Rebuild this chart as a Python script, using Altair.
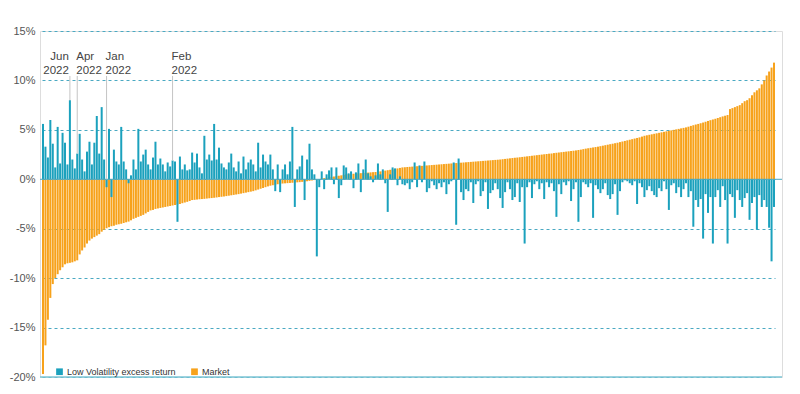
import altair as alt
import pandas as pd

# Market monthly return (%), sorted ascending
market = [
    -19.7, -16.8, -14.2, -12.0, -10.6, -10.0, -9.6, -9.2, -8.9, -8.6,
    -8.5, -8.45, -8.4, -8.3, -8.2, -7.6, -7.2, -6.9, -6.5, -6.2,
    -6.0, -5.85, -5.7, -5.55, -5.3, -5.1, -4.95, -4.85, -4.75, -4.7,
    -4.6, -4.55, -4.5, -4.42, -4.35, -4.28, -4.15, -4.0, -3.9, -3.8,
    -3.7, -3.6, -3.45, -3.3, -3.15, -3.1, -3.0, -2.95, -2.9, -2.85,
    -2.8, -2.75, -2.7, -2.65, -2.6, -2.55, -2.5, -2.42, -2.35, -2.28,
    -2.2, -2.1, -2.08, -2.05, -2.02, -2.0, -1.98, -1.95, -1.92, -1.9,
    -1.87, -1.84, -1.8, -1.77, -1.74, -1.7, -1.66, -1.62, -1.58, -1.54,
    -1.5, -1.45, -1.4, -1.35, -1.3, -1.25, -1.2, -1.12, -1.04, -0.96,
    -0.88, -0.8, -0.72, -0.65, -0.6, -0.55, -0.5, -0.45, -0.43, -0.41,
    -0.39, -0.37, -0.35, -0.33, -0.31, -0.29, -0.26, -0.23, -0.2, -0.16,
    -0.12, -0.08, -0.04, 0.03, 0.08, 0.12, 0.16, 0.2, 0.24, 0.28,
    0.32, 0.36, 0.4, 0.45, 0.5, 0.52, 0.54, 0.56, 0.58, 0.6,
    0.62, 0.64, 0.66, 0.68, 0.7, 0.72, 0.74, 0.77, 0.8, 0.84,
    0.88, 0.92, 0.96, 1.0, 1.05, 1.1, 1.15, 1.2, 1.22, 1.24,
    1.26, 1.28, 1.3, 1.32, 1.34, 1.36, 1.38, 1.4, 1.42, 1.44,
    1.46, 1.48, 1.5, 1.52, 1.54, 1.56, 1.58, 1.6, 1.62, 1.64,
    1.66, 1.68, 1.7, 1.72, 1.74, 1.76, 1.78, 1.8, 1.82, 1.84,
    1.86, 1.88, 1.9, 1.92, 1.94, 1.96, 1.98, 2.0, 2.03, 2.06,
    2.09, 2.12, 2.15, 2.18, 2.2, 2.23, 2.26, 2.29, 2.32, 2.35,
    2.38, 2.41, 2.44, 2.47, 2.5, 2.53, 2.56, 2.59, 2.62, 2.65,
    2.68, 2.71, 2.74, 2.77, 2.8, 2.83, 2.86, 2.89, 2.92, 2.96,
    3.0, 3.05, 3.1, 3.14, 3.18, 3.22, 3.26, 3.3, 3.35, 3.4,
    3.45, 3.5, 3.55, 3.6, 3.65, 3.7, 3.76, 3.82, 3.88, 3.94,
    4.0, 4.06, 4.12, 4.18, 4.24, 4.32, 4.4, 4.45, 4.5, 4.55,
    4.6, 4.65, 4.7, 4.75, 4.8, 4.85, 4.9, 4.95, 5.0, 5.05,
    5.1, 5.15, 5.2, 5.25, 5.32, 5.4, 5.47, 5.54, 5.6, 5.67,
    5.74, 5.82, 5.9, 5.98, 6.05, 6.12, 6.2, 6.28, 6.36, 6.43,
    6.5, 7.1, 7.2, 7.3, 7.4, 7.5, 7.7, 7.9, 8.0, 8.2,
    8.5, 8.8, 9.0, 9.2, 9.6, 10.0, 10.5, 10.9, 11.3, 11.8,
]

# Low Volatility excess return (%) for the same months
lowvol = [
    5.6, 3.3, 2.2, 6.0, 3.6, 1.2, 5.3, 1.6, 4.7, 3.7,
    1.5, 8.0, 2.0, 1.1, 2.6, 4.6, 2.0, 0.8, 2.8, 3.8,
    1.5, 3.7, 6.4, 2.6, 7.3, 2.0, -0.8, 5.1, -1.8, 3.0,
    1.8, 1.5, 5.3, 1.8, 1.0, -0.4, 0.4, 2.0, 1.0, 5.1,
    1.8, 2.5, 3.0, 1.5, 1.0, 2.2, 3.8, 1.5, 2.1, 1.5,
    0.8, 1.7, 1.3, 1.9, 1.8, -4.3, 2.3, 1.0, 1.5, 0.9,
    1.0, 2.7, 1.7, 2.6, 1.2, 0.6, 4.4, 2.0, 2.5, 1.9,
    5.6, 2.0, 3.2, 1.6, 1.2, 1.0, 1.7, 2.6, 1.2, 0.8,
    1.8, 0.6, 2.3, 1.0, 1.7, 2.0, 1.5, 0.8, 3.7, 1.2,
    2.5, 1.8, 1.5, 2.5, 1.0, -1.2, 1.5, -1.3, 1.0, 1.5,
    0.5, 1.8, 5.3, -2.8, 1.0, 1.3, 2.4, -2.1, 2.0, 3.6,
    1.0, 0.5, -7.8, -0.8, 0.8, -1.0, 0.5, 0.9, 1.2, -0.5,
    1.2, -1.9, -0.6, 1.4, 1.2, 0.6, 0.8, -0.9, 0.7, 1.6,
    -1.3, 1.0, 2.0, 0.6, 0.3, -0.3, 0.4, 1.6, 0.5, 1.0,
    -0.4, -3.3, 0.5, 1.2, 1.1, -0.6, 0.3, -0.5, -0.6, -0.4,
    -1.0, -0.3, 1.7, -0.8, 1.4, -0.3, 1.8, -1.3, -0.9, -0.2,
    -0.6, -1.0, -0.4, -0.8, -0.3, -1.5, -0.5, -0.2, 1.7, -4.6,
    2.1, -1.3, -2.1, -1.0, -1.2, -0.3, -2.4, -0.5, -0.2, -1.7,
    -1.2, -0.3, -3.0, -1.4, -1.1, -0.4, -1.0, -1.9, -2.9, -1.3,
    -0.3, -1.0, -2.1, -1.8, -0.4, -2.3, -0.8, -6.5, -0.8, -0.3,
    -1.9, -0.5, -0.2, -1.0, -0.4, -2.0, -0.3, -0.8, -0.4, -1.2,
    -3.8, -0.5, -1.5, -0.3, -0.6, -0.2, -2.2, -1.0, -0.3, -4.3,
    -1.8, -0.3, -0.5, -0.8, -0.4, -3.9, -0.6, -1.0, -1.4, -1.0,
    -0.4, -1.6, -2.0, -1.5, -0.5, -3.6, -1.2, -0.3, -0.1, -0.2,
    -0.4, -0.6, -0.2, -2.5, -0.4, -0.8, -1.8, -1.1, -0.7, -1.2,
    -1.6, -1.8, -0.9, -1.2, -0.2, -1.0, -3.1, -0.6, -0.4, -1.4,
    -0.8, -1.8, -1.0, -0.4, -1.8, -1.2, -4.8, -2.1, -2.8, -2.0,
    -6.0, -1.5, -3.4, -1.8, -6.5, -1.8, -1.1, -2.8, -0.7, -2.1,
    -6.5, -1.5, -1.8, -3.9, -1.1, -2.1, -2.8, -1.9, -1.4, -4.1,
    -2.4, -1.8, -5.1, -1.6, -2.8, -2.1, -2.8, -4.9, -8.3, -2.8,
]

assert len(market) == len(lowvol), (len(market), len(lowvol))

series_names = ["Low Volatility excess return", "Market"]
series_colors = ["#1ba1bd", "#f7a21b"]

# Annotated months: bar index, label
ann_index = [11, 14, 26, 53]
ann_labels = ["Jun\n2022", "Apr\n2022", "Jan\n2022", "Feb\n2022"]
ann_align = ["right", "left", "left", "left"]

y_ticks = [15, 10, 5, 0, -5, -10, -15, -20]

FONT = "Liberation Sans"

n = len(market)
df_m = pd.DataFrame({"i": list(range(n)), "value": market, "series": series_names[1]})
df_l = pd.DataFrame({"i": list(range(n)), "value": lowvol, "series": series_names[0]})

ann_top = 10.45
df_a = pd.DataFrame({
    "i": ann_index,
    "label": ann_labels,
    "align": ann_align,
    "top": [ann_top] * len(ann_index),
    "end": [max(lowvol[k], 0) for k in ann_index],
})

xscale = alt.Scale(domain=list(range(n)), range=[2, 735], paddingInner=0.18, paddingOuter=0)
yscale = alt.Scale(domain=[-20, 15], nice=False, zero=False)
X = alt.X("i:O", scale=xscale, axis=None)

color = alt.Color(
    "series:N",
    scale=alt.Scale(domain=series_names, range=series_colors),
    legend=alt.Legend(
        title=None, orient="none", legendX=15, legendY=336, direction="horizontal",
        symbolType="square", symbolSize=45, symbolStrokeWidth=0,
        labelFont=FONT, labelFontSize=9, labelColor="#333333",
        columnPadding=14, labelOffset=3,
    ),
)

base_y = alt.Y(
    "value:Q", scale=yscale, title=None,
    axis=alt.Axis(
        values=y_ticks, labelExpr="datum.value + '%'", domain=False, ticks=False,
        labelPadding=5, labelFont=FONT, labelFontSize=11, labelColor="#555555",
        grid=True, gridColor="#4aa9c2", gridDash=[3, 3], gridWidth=1,
    ),
)

bars_m = alt.Chart(df_m).mark_bar().encode(x=X, y=base_y, y2=alt.datum(0), color=color)
bars_l = alt.Chart(df_l).mark_bar().encode(x=X, y=alt.Y("value:Q", scale=yscale), y2=alt.datum(0), color=color)

zero_line = alt.Chart(pd.DataFrame({"v": [0]})).mark_rule(color="#4aa9c2", strokeWidth=1).encode(
    y=alt.Y("v:Q", scale=yscale))
bottom_line = alt.Chart(pd.DataFrame({"v": [-20]})).mark_rule(color="#7cc6d6", strokeWidth=1.5).encode(
    y=alt.Y("v:Q", scale=yscale))

ann_rules = alt.Chart(df_a).mark_rule(color="#c4c4c4", strokeWidth=1).encode(
    x=X, y=alt.Y("top:Q", scale=yscale), y2="end:Q")

ann_text_r = alt.Chart(df_a).transform_filter("datum.align == 'right'").mark_text(
    align="right", baseline="bottom", dx=-1, dy=-14, lineBreak="\n", lineHeight=14,
    font=FONT, fontSize=11.5, color="#444444",
).encode(x=X, y=alt.Y("top:Q", scale=yscale), text="label:N")

ann_text_l = alt.Chart(df_a).transform_filter("datum.align == 'left'").mark_text(
    align="left", baseline="bottom", dx=-1, dy=-14, lineBreak="\n", lineHeight=14,
    font=FONT, fontSize=11.5, color="#444444",
).encode(x=X, y=alt.Y("top:Q", scale=yscale), text="label:N")

chart = alt.layer(
    bars_m, bars_l, zero_line, bottom_line, ann_rules, ann_text_r, ann_text_l
).properties(
    width=742, height=346,
    padding={"left": 32, "top": 23, "right": 10, "bottom": 10},
    autosize="none",
).configure_view(stroke=None).configure(background="white")

chart.save("out.html", embed_options={"renderer": "svg", "actions": False})
